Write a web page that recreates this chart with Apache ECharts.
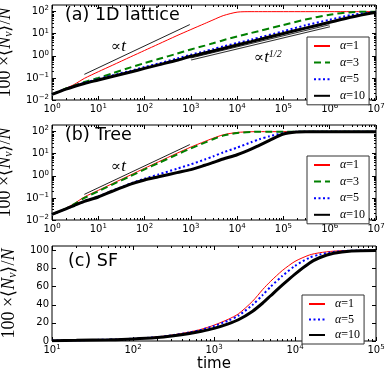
<!DOCTYPE html>
<html><head><meta charset="utf-8">
<script src="https://cdn.jsdelivr.net/npm/echarts@6/dist/echarts.min.js"></script>
<style>html,body{margin:0;padding:0;background:#fff}#c{width:390px;height:378px}</style>
</head><body><div id="c"></div>
<script>
// ---------- data ----------
const tLattice = [1,2,3,5,10,20,50,100,200,500,1000,2000,3000,5000,1e4,2e4,1e5,3e5,1e6,3e6,1e7];
const latticeA1  = [0.018,0.034,0.05,0.095,0.19,0.37,0.9,1.75,3.4,8.2,15.5,29,42,66,95,100,100,100,100,100,100];
const latticeA3  = [0.018,0.033,0.045,0.065,0.1,0.16,0.3,0.47,0.72,1.25,1.95,2.9,3.7,5.1,7.5,10.8,25,44,73,95,100];
const latticeA5  = [0.018,0.032,0.043,0.06,0.088,0.13,0.21,0.31,0.45,0.75,1.12,1.6,2.0,2.65,3.8,5.4,13,24,43,71,97];
const latticeA10 = [0.018,0.031,0.041,0.056,0.08,0.115,0.185,0.27,0.39,0.63,0.95,1.35,1.65,2.15,3.1,4.4,10.3,18,33,57,93];

const tTree = [1,2,3,5,10,20,50,100,200,500,1000,2000,3000,5000,1e4,2e4,3e4,5e4,1e5,2e5,3e5,1e6,1e7];
const treeA1  = [0.018,0.034,0.055,0.11,0.22,0.44,1.1,2.2,4.3,10.5,20,36,50,72,92,99,100,100,100,100,100,100,100];
const treeA3  = [0.018,0.033,0.052,0.1,0.2,0.4,0.98,1.95,3.8,9.2,17.5,32,45,66,87,97.5,99.5,100,100,100,100,100,100];
const treeA5  = [0.018,0.032,0.045,0.07,0.115,0.21,0.45,0.75,1.15,2.1,3.3,5.5,7.5,11.5,19,33,45,62,85,99,100,100,100];
const treeA10 = [0.018,0.032,0.045,0.07,0.11,0.2,0.42,0.65,0.9,1.4,1.9,3,4,5.8,9,16,24,40,78,97,100,100,100];

const tSF = [10,20,50,100,200,300,500,700,1000,1500,2000,3000,4000,5000,7000,1e4,1.5e4,2e4,3e4,5e4,1e5];
const sfA1  = [0.5,0.8,1.5,2.5,4.5,6.5,10,13,17.5,24,30,44,57,66,78,88,95,97.5,99.3,100,100];
const sfA5  = [0.5,0.8,1.5,2.5,4.3,6.2,9.5,12.5,16.5,22.5,28,40,51,60,72,83,92,95.5,98.5,99.8,100];
const sfA10 = [0.4,0.7,1.3,2.2,3.8,5.5,8.3,10.8,14,19,23.5,33,42,50,62,74,86,92,97,99.5,100];

// guide lines (t, value)
const guideLinearT = [5, 950];
const guideLinearV = [0.145, 26];
const guideSqrtT = [1000, 1e6];
const guideSqrtV = [0.72, 23];

// tick labels
const xTicksLog = [1,10,100,1e3,1e4,1e5,1e6,1e7];
const xTicksSF = [10,100,1e3,1e4,1e5];
const yTicksLog = [0.01,0.1,1,10,100];
const yTicksSF = [0,20,40,60,80,100];
const legendNames = ['α=1','α=3','α=5','α=10'];
const legendNamesSF = ['α=1','α=5','α=10'];

// ---------- helpers ----------
function pow10(v){const e=Math.round(Math.log10(v));return '{b|10}{s|'+String(e).replace('-','−')+'}';}
const powRich = {b:{fontFamily:'DejaVu Sans', fontSize:10, lineHeight:13, color:'#000'},
                 s:{fontFamily:'DejaVu Sans', fontSize:7, lineHeight:8, verticalAlign:'top', color:'#000'}};
function minors(lo,hi){const o=[];for(let e=lo;e<hi;e++)for(let m=2;m<=9;m++)o.push(+(m*Math.pow(10,e)).toPrecision(3));return o;}
function zip(t,v){return t.map((x,i)=>[x,v[i]]);}

const STY = {
  'α=1': {color:'#ff0000', width:1, type:'solid'},
  'α=3': {color:'#008000', width:2, type:[7,4]},
  'α=5': {color:'#0000ff', width:2, type:[2,2.5]},
  'α=10':{color:'#000000', width:3, type:'solid'}
};
const tickFont = {fontFamily:'DejaVu Sans', fontSize:10, color:'#000'};
const grids = [
  {left:52, right:14, top:5, height:95},
  {left:52, right:14, top:125, height:95},
  {left:52, right:14, top:246, height:95}
];

const xAxes=[], yAxes=[];
function addX(g, min, max, majors, minorVals, withName){
  const base = {gridIndex:g, type:'log', logBase:10, min, max, splitLine:{show:false}, axisPointer:{show:false}};
  xAxes.push(Object.assign({}, base, {position:'bottom', axisLine:{show:false},
    axisTick:{show:true, inside:true, length:4, customValues:majors, lineStyle:{color:'#000'}},
    axisLabel:{customValues:majors, formatter:pow10, margin:3, rich:powRich},
    name: withName?'time':'', nameLocation:'middle', nameGap:15,
    nameTextStyle:{fontFamily:'DejaVu Sans', fontSize:15, color:'#000'}}));
  xAxes.push(Object.assign({}, base, {position:'bottom', axisLine:{show:false},
    axisTick:{show:true, inside:true, length:2, customValues:minorVals, lineStyle:{color:'#000'}}, axisLabel:{show:false}}));
  xAxes.push(Object.assign({}, base, {position:'top', axisLine:{show:false},
    axisTick:{show:true, inside:true, length:4, customValues:majors, lineStyle:{color:'#000'}}, axisLabel:{show:false}}));
  xAxes.push(Object.assign({}, base, {position:'top', axisLine:{show:false},
    axisTick:{show:true, inside:true, length:2, customValues:minorVals, lineStyle:{color:'#000'}}, axisLabel:{show:false}}));
}
const yName = '{n|100 ×⟨}{i|N}{s|v}{n|⟩/}{i|N}';
const yNameStyle = {color:'#000', rich:{
  n:{fontFamily:'Liberation Serif', fontSize:18, lineHeight:20, color:'#000'},
  i:{fontFamily:'Liberation Serif', fontStyle:'italic', fontSize:18, lineHeight:20, color:'#000'},
  s:{fontFamily:'Liberation Serif', fontStyle:'italic', fontSize:12, lineHeight:13, verticalAlign:'bottom', color:'#000'}
}};
function addYLog(g){
  const base = {gridIndex:g, type:'log', logBase:10, min:0.01, max:200, splitLine:{show:false}, axisPointer:{show:false}};
  const mn = minors(-2,2);
  yAxes.push(Object.assign({}, base, {position:'left', axisLine:{show:false},
    axisTick:{show:true, inside:true, length:4, customValues:yTicksLog, lineStyle:{color:'#000'}},
    axisLabel:{customValues:yTicksLog, formatter:pow10, margin:3, rich:powRich},
    name:yName, nameLocation:'middle', nameGap:21, nameTextStyle:yNameStyle}));
  yAxes.push(Object.assign({}, base, {position:'left', axisLine:{show:false},
    axisTick:{show:true, inside:true, length:2, customValues:mn, lineStyle:{color:'#000'}}, axisLabel:{show:false}}));
  yAxes.push(Object.assign({}, base, {position:'right', axisLine:{show:false},
    axisTick:{show:true, inside:true, length:4, customValues:yTicksLog, lineStyle:{color:'#000'}}, axisLabel:{show:false}}));
  yAxes.push(Object.assign({}, base, {position:'right', axisLine:{show:false},
    axisTick:{show:true, inside:true, length:2, customValues:mn, lineStyle:{color:'#000'}}, axisLabel:{show:false}}));
}
addX(0, 1, 1e7, xTicksLog, minors(0,7), false);
addX(1, 1, 1e7, xTicksLog, minors(0,7), false);
addX(2, 10, 1e5, xTicksSF, minors(1,5), true);
addYLog(0); addYLog(1);
{
  const base = {gridIndex:2, type:'value', min:0, max:105, splitLine:{show:false}, axisPointer:{show:false}};
  yAxes.push(Object.assign({}, base, {position:'left', axisLine:{show:false},
    axisTick:{show:true, inside:true, length:4, customValues:yTicksSF, lineStyle:{color:'#000'}},
    axisLabel:Object.assign({customValues:yTicksSF, margin:3}, tickFont),
    name:yName, nameLocation:'middle', nameGap:21, nameTextStyle:yNameStyle}));
  yAxes.push(Object.assign({}, base, {position:'right', axisLine:{show:false},
    axisTick:{show:true, inside:true, length:4, customValues:yTicksSF, lineStyle:{color:'#000'}}, axisLabel:{show:false}}));
}
const yIdx = [0,4,8];

const series = [];
function addCurve(g, name, t, v){
  const s = STY[name];
  series.push({type:'line', name, xAxisIndex:g*4, yAxisIndex:yIdx[g], data:zip(t,v), showSymbol:false, symbol:'none',
    smooth:0.25, lineStyle:{color:s.color, width:s.width, type:s.type}, itemStyle:{color:s.color}, silent:true, z:3});
}
function addGuide(g, t, v, color, width, z){
  series.push({type:'line', name:'guide', xAxisIndex:g*4, yAxisIndex:yIdx[g], data:zip(t,v), symbol:'none',
    lineStyle:{color, width}, silent:true, z:z||2});
}
addGuide(0, guideLinearT, guideLinearV, '#222', 1);
addGuide(0, guideSqrtT, guideSqrtV, '#333', 3.2);
addGuide(0, guideSqrtT, guideSqrtV, '#fff', 1.2);
addCurve(0,'α=1',tLattice,latticeA1);
addCurve(0,'α=3',tLattice,latticeA3);
addCurve(0,'α=5',tLattice,latticeA5);
addCurve(0,'α=10',tLattice,latticeA10);
addGuide(1, guideLinearT, guideLinearV, '#222', 1);
addCurve(1,'α=1',tTree,treeA1);
addCurve(1,'α=3',tTree,treeA3);
addCurve(1,'α=5',tTree,treeA5);
addCurve(1,'α=10',tTree,treeA10);
addCurve(2,'α=1',tSF,sfA1);
addCurve(2,'α=5',tSF,sfA5);
addCurve(2,'α=10',tSF,sfA10);

function legend(left, top, names, gap){
  return {left, top, orient:'vertical', data:names, itemWidth:16, itemHeight:10, itemGap:gap,
    padding:[3,4,3,6], borderColor:'#333', borderWidth:1, backgroundColor:'#fff', selectedMode:false,
    itemStyle:{color:'rgba(0,0,0,0)', borderWidth:0, opacity:0},
    formatter: n => '{a|α}{b|=' + n.split('=')[1] + '}',
    textStyle:{padding:[0,0,0,5], lineHeight:10, rich:{a:{fontFamily:'Liberation Serif', fontStyle:'italic', fontSize:12, lineHeight:10, color:'#000'},
      b:{fontFamily:'Liberation Serif', fontSize:12, lineHeight:10, color:'#000'}}}};
}

const txt = (x,y,text,size) => ({type:'text', x, y, silent:true, style:{text, fill:'#000', font:size+'px "DejaVu Sans"', verticalAlign:'middle'}});
const rt = (x,y,text,rich) => ({type:'text', x, y, silent:true, style:{text, fill:'#000', verticalAlign:'middle', rich}});
const propRich = {m:{fontFamily:'DejaVu Serif', fontSize:15, lineHeight:18}, i:{fontFamily:'Liberation Serif', fontStyle:'italic', fontSize:17, lineHeight:18},
  s:{fontFamily:'Liberation Serif', fontStyle:'italic', fontSize:10, lineHeight:10, verticalAlign:'top'}};

const option = {
  animation:false, backgroundColor:'#fff',
  grid: grids.map(g=>Object.assign({show:true, borderColor:'#000', borderWidth:1, backgroundColor:'transparent', containLabel:false, outerBoundsMode:'none'}, g)),
  xAxis:xAxes, yAxis:yAxes, series,
  legend:[legend(307,37,legendNames,4.6), legend(307,156,legendNames,4.6), legend(302,295,legendNamesSF,3.5)],
  graphic:[
    txt(65,15,'(a) 1D lattice',17.5),
    txt(65,135,'(b) Tree',17.5),
    txt(68,261,'(c) SF',17.5),
    rt(111,47,'{m|∝}{i|t}',propRich),
    rt(111,167,'{m|∝}{i|t}',propRich),
    rt(254,58,'{m|∝}{i|t}{s|1/2}',propRich)
  ]
};
const chart = echarts.init(document.getElementById('c'), null, {renderer:'canvas'});
chart.setOption(option);
</script></body></html>
